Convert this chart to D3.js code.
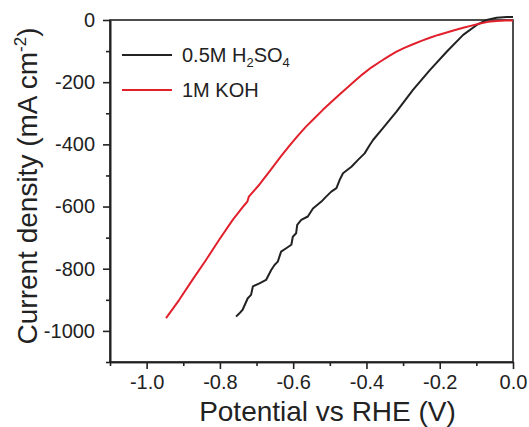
<!DOCTYPE html>
<html>
<head>
<meta charset="utf-8">
<script src="https://cdn.jsdelivr.net/npm/d3@7"></script>
<style>
  body { margin: 0; background: #fff; }
  svg text { font-family: "Liberation Sans", Arial, sans-serif; fill: #222; }
  .axis path, .axis line { stroke: #222; stroke-width: 1.6; }
  .axis text { font-size: 20px; }
</style>
</head>
<body>
<div class="lineChart"></div>
<script>
const WIDTH = 529;
const HEIGHT = 427;
const LEFT = 110, RIGHT = 513, TOP = 20, BOTTOM = 362;

// potential (V) / current density (mA cm-2)
const h2so4 = [
    [-0.756, -954], [-0.748, -945], [-0.738, -932], [-0.724, -895], [-0.715, -884],
    [-0.71, -857], [-0.692, -847], [-0.674, -836], [-0.66, -804], [-0.651, -788],
    [-0.642, -777], [-0.633, -745], [-0.619, -734], [-0.605, -723], [-0.601, -697],
    [-0.592, -686], [-0.589, -659], [-0.578, -643], [-0.56, -632], [-0.546, -606],
    [-0.523, -584], [-0.51, -568], [-0.496, -552], [-0.482, -541], [-0.473, -514],
    [-0.464, -493], [-0.441, -472], [-0.423, -450], [-0.405, -429], [-0.391, -402],
    [-0.382, -386], [-0.355, -348], [-0.318, -295], [-0.273, -225], [-0.227, -161],
    [-0.181, -102], [-0.136, -48], [-0.099, -16], [-0.072, 0], [-0.045, 7],
    [-0.017, 10], [0, 10]
];
const koh = [
    [-0.947, -959], [-0.911, -900], [-0.875, -836], [-0.838, -772], [-0.802, -707],
    [-0.765, -643], [-0.733, -595], [-0.725, -584], [-0.721, -568], [-0.692, -529],
    [-0.665, -488], [-0.633, -438], [-0.61, -404], [-0.587, -372], [-0.565, -343],
    [-0.542, -316], [-0.519, -289], [-0.496, -264], [-0.475, -241], [-0.455, -220],
    [-0.432, -196], [-0.41, -174], [-0.387, -153], [-0.364, -135], [-0.341, -118],
    [-0.318, -102], [-0.295, -89], [-0.273, -78], [-0.25, -67], [-0.227, -57],
    [-0.204, -48], [-0.181, -40], [-0.158, -32], [-0.136, -25], [-0.113, -18],
    [-0.09, -11], [-0.068, -6], [-0.045, -3], [-0.02, -2], [0, -2]
];

const xTicks = [-1.0, -0.8, -0.6, -0.4, -0.2, 0.0];
const xMinor = [-1.1, -0.9, -0.7, -0.5, -0.3, -0.1];
const yTicks = [0, -200, -400, -600, -800, -1000];
const yMinor = [-100, -300, -500, -700, -900, -1100];

const series = [
    {name: '0.5M H', sub1: '2', mid: 'SO', sub2: '4', data: h2so4, color: '#222222'},
    {name: '1M KOH', data: koh, color: '#e2202c'}
];

var x = d3.scaleLinear().domain([-1.1, 0]).range([LEFT, RIGHT]);
var y = d3.scaleLinear().domain([-1100, 0]).range([BOTTOM, TOP]);

var svg = d3.select('.lineChart').append('svg')
    .attr('width', WIDTH)
    .attr('height', HEIGHT);

// axes
svg.append('g').attr('class', 'axis')
    .attr('transform', 'translate(0,' + BOTTOM + ')')
    .call(d3.axisBottom(x).tickValues(xMinor).tickSize(4).tickFormat('').tickSizeOuter(0));
svg.append('g').attr('class', 'axis')
    .attr('transform', 'translate(0,' + BOTTOM + ')')
    .call(d3.axisBottom(x).tickValues(xTicks).tickSize(7).tickPadding(6).tickSizeOuter(0)
        .tickFormat(d3.format('.1f')));
svg.append('g').attr('class', 'axis')
    .attr('transform', 'translate(' + LEFT + ',0)')
    .call(d3.axisLeft(y).tickValues(yMinor).tickSize(4).tickFormat('').tickSizeOuter(0));
svg.append('g').attr('class', 'axis')
    .attr('transform', 'translate(' + LEFT + ',0)')
    .call(d3.axisLeft(y).tickValues(yTicks).tickSize(7).tickPadding(8).tickSizeOuter(0)
        .tickFormat(d3.format('d')));
svg.selectAll('.axis text').text(function () {
    return d3.select(this).text().replace('\u2212', '-');
});

// frame
svg.append('rect')
    .attr('x', LEFT).attr('y', TOP)
    .attr('width', RIGHT - LEFT).attr('height', BOTTOM - TOP)
    .attr('fill', 'none').attr('stroke', '#222').attr('stroke-width', 1.6);

// curves
var line = d3.line()
    .x(function (d) { return x(d[0]); })
    .y(function (d) { return y(d[1]); });
series.forEach(function (s) {
    svg.append('path')
        .attr('d', line(s.data))
        .attr('fill', 'none')
        .attr('stroke', s.color)
        .attr('stroke-width', 2)
        .attr('stroke-linejoin', 'round');
});

// legend
series.forEach(function (s, i) {
    var ly = 55 + i * 35;
    svg.append('line')
        .attr('x1', 122).attr('x2', 172).attr('y1', ly).attr('y2', ly)
        .attr('stroke', s.color).attr('stroke-width', 2);
    var t = svg.append('text')
        .attr('x', 182).attr('y', ly + 7)
        .attr('font-size', 20);
    t.append('tspan').text(s.name);
    if (s.sub1) {
        t.append('tspan').attr('font-size', 13).attr('dy', 5).text(s.sub1);
        t.append('tspan').attr('dy', -5).text(s.mid);
        t.append('tspan').attr('font-size', 13).attr('dy', 5).text(s.sub2);
    }
});

// axis titles
svg.append('text')
    .attr('x', (LEFT + RIGHT) / 2 + 16).attr('y', 421)
    .attr('text-anchor', 'middle').attr('font-size', 28)
    .text('Potential vs RHE (V)');

var yt = svg.append('text')
    .attr('transform', 'translate(37,186) rotate(-90)')
    .attr('text-anchor', 'middle').attr('font-size', 28);
yt.append('tspan').text('Current density (mA cm');
yt.append('tspan').attr('font-size', 17).attr('dy', -11).text('-2');
yt.append('tspan').attr('dy', 11).text(')');
</script>
</body>
</html>
